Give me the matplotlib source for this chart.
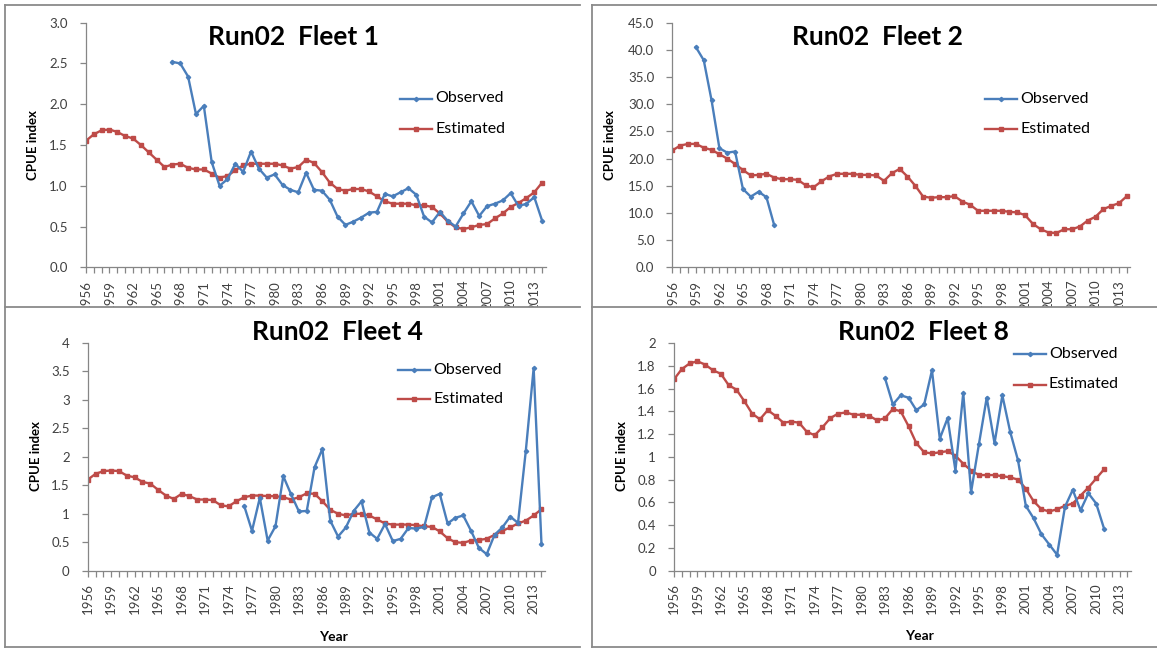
import matplotlib
matplotlib.use("Agg")
import matplotlib.pyplot as plt
from matplotlib.lines import Line2D
from matplotlib.patches import Rectangle

plt.rcParams['font.family'] = ['Lato', 'DejaVu Sans']

# ---------------- data ----------------
years = list(range(1956, 2015))
year_labels = [str(y) if (y - 1956) % 3 == 0 else "" for y in years]

f1_est = [1.55, 1.63, 1.68, 1.69, 1.66, 1.61, 1.58, 1.50, 1.41, 1.32,
          1.23, 1.26, 1.27, 1.22, 1.20, 1.20, 1.15, 1.10, 1.12, 1.19,
          1.25, 1.27, 1.27, 1.27, 1.27, 1.25, 1.21, 1.23, 1.32, 1.28,
          1.17, 1.04, 0.96, 0.94, 0.96, 0.96, 0.93, 0.87, 0.81, 0.78,
          0.78, 0.78, 0.76, 0.76, 0.74, 0.66, 0.56, 0.49, 0.47, 0.49,
          0.52, 0.53, 0.60, 0.66, 0.74, 0.79, 0.85, 0.92, 1.04]
f1_obs_start = 1967
f1_obs = [2.52, 2.50, 2.34, 1.88, 1.98, 1.29, 1.00, 1.08, 1.27, 1.17,
          1.42, 1.21, 1.10, 1.14, 1.01, 0.95, 0.92, 1.16, 0.95, 0.94,
          0.83, 0.62, 0.52, 0.56, 0.61, 0.67, 0.68, 0.90, 0.87, 0.92,
          0.97, 0.89, 0.62, 0.55, 0.68, 0.57, 0.50, 0.66, 0.81, 0.63,
          0.75, 0.78, 0.82, 0.91, 0.75, 0.78, 0.86, 0.57]

f2_est = [21.5, 22.4, 22.7, 22.7, 22.0, 21.6, 20.8, 20.0, 19.0, 17.9,
          16.9, 17.0, 17.2, 16.5, 16.2, 16.2, 16.1, 15.1, 14.7, 15.8,
          16.7, 17.2, 17.2, 17.2, 17.0, 17.0, 16.9, 15.9, 17.3, 18.1,
          16.7, 15.0, 13.0, 12.8, 12.9, 12.9, 13.1, 12.1, 11.5, 10.4,
          10.4, 10.4, 10.4, 10.2, 10.1, 9.6, 8.0, 7.0, 6.4, 6.3,
          7.0, 7.0, 7.5, 8.6, 9.3, 10.7, 11.3, 11.8, 13.1]
f2_obs_start = 1959
f2_obs = [40.5, 38.1, 30.7, 21.9, 21.1, 21.3, 14.4, 13.0, 13.9, 12.9, 7.7]

f4_est = [1.60, 1.70, 1.75, 1.76, 1.75, 1.67, 1.64, 1.56, 1.53, 1.42,
          1.32, 1.26, 1.35, 1.31, 1.25, 1.25, 1.24, 1.15, 1.13, 1.22,
          1.29, 1.32, 1.32, 1.31, 1.31, 1.29, 1.25, 1.29, 1.36, 1.35,
          1.22, 1.07, 1.00, 0.97, 1.00, 1.00, 0.97, 0.90, 0.83, 0.81,
          0.81, 0.81, 0.80, 0.78, 0.77, 0.69, 0.57, 0.50, 0.49, 0.53,
          0.54, 0.56, 0.63, 0.70, 0.76, 0.83, 0.88, 0.97, 1.08]
f4_obs_start = 1976
f4_obs = [1.14, 0.70, 1.28, 0.53, 0.78, 1.66, 1.34, 1.04, 1.05, 1.82,
          2.14, 0.88, 0.60, 0.76, 1.05, 1.22, 0.67, 0.56, 0.82, 0.52,
          0.56, 0.75, 0.74, 0.77, 1.29, 1.35, 0.83, 0.93, 0.97, 0.70,
          0.40, 0.29, 0.63, 0.76, 0.95, 0.84, 2.11, 3.56, 0.47]

f8_est = [1.68, 1.77, 1.82, 1.84, 1.81, 1.76, 1.73, 1.63, 1.59, 1.49,
          1.38, 1.33, 1.41, 1.36, 1.30, 1.31, 1.30, 1.22, 1.19, 1.26,
          1.34, 1.38, 1.39, 1.37, 1.37, 1.36, 1.32, 1.34, 1.42, 1.40,
          1.27, 1.12, 1.04, 1.03, 1.04, 1.05, 1.01, 0.94, 0.88, 0.84,
          0.84, 0.84, 0.83, 0.82, 0.80, 0.72, 0.61, 0.54, 0.52, 0.54,
          0.57, 0.59, 0.66, 0.73, 0.81, 0.89]
f8_obs_start = 1983
f8_obs = [1.69, 1.46, 1.54, 1.52, 1.41, 1.46, 1.76, 1.16, 1.34, 0.88,
          1.56, 0.69, 1.11, 1.52, 1.12, 1.54, 1.22, 0.97, 0.57, 0.46,
          0.32, 0.23, 0.14, 0.56, 0.71, 0.53, 0.68, 0.59, 0.37]

titles = ["Run02  Fleet 1", "Run02  Fleet 2", "Run02  Fleet 4", "Run02  Fleet 8"]
f1_yticks = [0.0, 0.5, 1.0, 1.5, 2.0, 2.5, 3.0]
f2_yticks = [0, 5, 10, 15, 20, 25, 30, 35, 40, 45]
f4_yticks = [0, 0.5, 1, 1.5, 2, 2.5, 3, 3.5, 4]
f8_yticks = [0, 0.2, 0.4, 0.6, 0.8, 1, 1.2, 1.4, 1.6, 1.8, 2]
f1_ylabels = ["%.1f" % v for v in f1_yticks]
f2_ylabels = ["%.1f" % v for v in f2_yticks]
f4_ylabels = ["0", "0.5", "1", "1.5", "2", "2.5", "3", "3.5", "4"]
f8_ylabels = ["0", "0.2", "0.4", "0.6", "0.8", "1", "1.2", "1.4", "1.6", "1.8", "2"]

# ---------------- style ----------------
W, H = 1157, 648
BLUE = "#4A7EBB"
RED = "#BE4B48"
AXC = "#868686"
TXT = "#404040"
BORDER = "#8a8a8a"
LW = 1.7

fig = plt.figure(figsize=(W / 100, H / 100), dpi=100)


def fx(x):
    return x / W


def fy(y):
    return 1 - y / H


def make_axes(l, t, r, b, zorder):
    ax = fig.add_axes([fx(l), fy(b), fx(r) - fx(l), fy(t) - fy(b)])
    ax.set_zorder(zorder)
    ax.patch.set_alpha(0)
    return ax


panels = [
    dict(rect=(85.8, 22.7, 545.7, 267.3), est=f1_est, obs=f1_obs, obs_start=f1_obs_start,
         ylim=(0, 3), yt=f1_yticks, yl=f1_ylabels, title=titles[0], tpos=(293, 45),
         leg=(399.5, 98.5, 129), ylab=(33, 145), xlab=None, z=0),
    dict(rect=(672.4, 22.7, 1130.4, 267.3), est=f2_est, obs=f2_obs, obs_start=f2_obs_start,
         ylim=(0, 45), yt=f2_yticks, yl=f2_ylabels, title=titles[1], tpos=(878, 45),
         leg=(985, 99, 129), ylab=(610, 145), xlab=None, z=0),
    dict(rect=(87.7, 343, 545, 570.7), est=f4_est, obs=f4_obs, obs_start=f4_obs_start,
         ylim=(0, 4), yt=f4_yticks, yl=f4_ylabels, title=titles[2], tpos=(337, 340.5),
         leg=(398, 369.5, 399), ylab=(36, 456), xlab=(333, 637), z=2),
    dict(rect=(673.9, 343, 1131, 570.7), est=f8_est, obs=f8_obs, obs_start=f8_obs_start,
         ylim=(0, 2), yt=f8_yticks, yl=f8_ylabels, title=titles[3], tpos=(923, 340.5),
         leg=(1013.5, 354, 384.5), ylab=(622, 456), xlab=(919, 636), z=2),
]

for p in panels:
    l, t, r, b = p["rect"]
    ax = make_axes(l, t, r, b, p["z"])
    est_years = years[:len(p["est"])]
    obs_years = list(range(p["obs_start"], p["obs_start"] + len(p["obs"])))
    ax.plot(obs_years, p["obs"], color=BLUE, lw=LW, marker="D", ms=2.2,
            mfc=BLUE, mec=BLUE, label="Observed", zorder=3)
    ax.plot(est_years, p["est"], color=RED, lw=LW, marker="s", ms=2.9,
            mfc=RED, mec=RED, label="Estimated", zorder=2)
    ax.set_xlim(1956, 2014.45)
    ax.set_ylim(*p["ylim"])
    for s in ["top", "right"]:
        ax.spines[s].set_visible(False)
    for s in ["left", "bottom"]:
        ax.spines[s].set_color(AXC)
        ax.spines[s].set_linewidth(0.9)
    ax.set_yticks(p["yt"])
    ax.set_yticklabels(p["yl"])
    ax.set_xticks(years)
    ax.set_xticklabels(year_labels, rotation=90)
    ax.tick_params(axis="y", length=4, width=0.9, color=AXC, pad=9,
                   labelsize=9.5, labelcolor=TXT)
    ax.tick_params(axis="x", length=4, width=0.9, color=AXC, pad=5,
                   labelsize=9.5, labelcolor=TXT)
    for lab in ax.get_xticklabels():
        lab.set_verticalalignment("top")

    fig.text(fx(p["tpos"][0]), fy(p["tpos"][1]), p["title"], ha="center",
             va="baseline", fontsize=19, fontweight="bold", color="black")
    fig.text(fx(p["ylab"][0]), fy(p["ylab"][1]), "CPUE index", rotation=90,
             ha="center", va="center", fontsize=9.5, fontweight="bold", color="black")
    if p["xlab"] is not None:
        fig.text(fx(p["xlab"][0]), fy(p["xlab"][1]), "Year", ha="center",
                 va="center", fontsize=10, fontweight="bold", color="black")

    # legend (drawn by hand at the reference position)
    lx, y1, y2 = p["leg"]
    for yy, col, mk, ms, name in [(y1, BLUE, "D", 2.2, "Observed"),
                                  (y2, RED, "s", 2.9, "Estimated")]:
        fig.add_artist(Line2D([fx(lx), fx(lx + 32)], [fy(yy), fy(yy)],
                              transform=fig.transFigure, color=col, lw=LW, zorder=5))
        fig.add_artist(Line2D([fx(lx + 16)], [fy(yy)], transform=fig.transFigure,
                              color=col, marker=mk, ms=ms, zorder=5))
        fig.text(fx(lx + 35.5), fy(yy), name, ha="left", va="center",
                 fontsize=11.5, color="black", zorder=5)

# white mask hiding the overflow of the top panels' tick labels
fig.add_artist(Rectangle((0, 0), 1, fy(307.5), transform=fig.transFigure,
                         facecolor="white", edgecolor="none", zorder=1))


# panel borders
def hline(y, x0, x1):
    fig.add_artist(Line2D([fx(x0), fx(x1)], [fy(y), fy(y)], transform=fig.transFigure,
                          color=BORDER, lw=1.3, zorder=10))


def vline(x, y0, y1):
    fig.add_artist(Line2D([fx(x), fx(x)], [fy(y0), fy(y1)], transform=fig.transFigure,
                          color=BORDER, lw=1.3, zorder=10))


for yy in (4.5, 307.5, 646.5):
    hline(yy, 5.5, 580)
    hline(yy, 591.5, 1157)
vline(5.5, 4.5, 646.5)
vline(591.5, 4.5, 646.5)

fig.savefig("out.png", dpi=100)
